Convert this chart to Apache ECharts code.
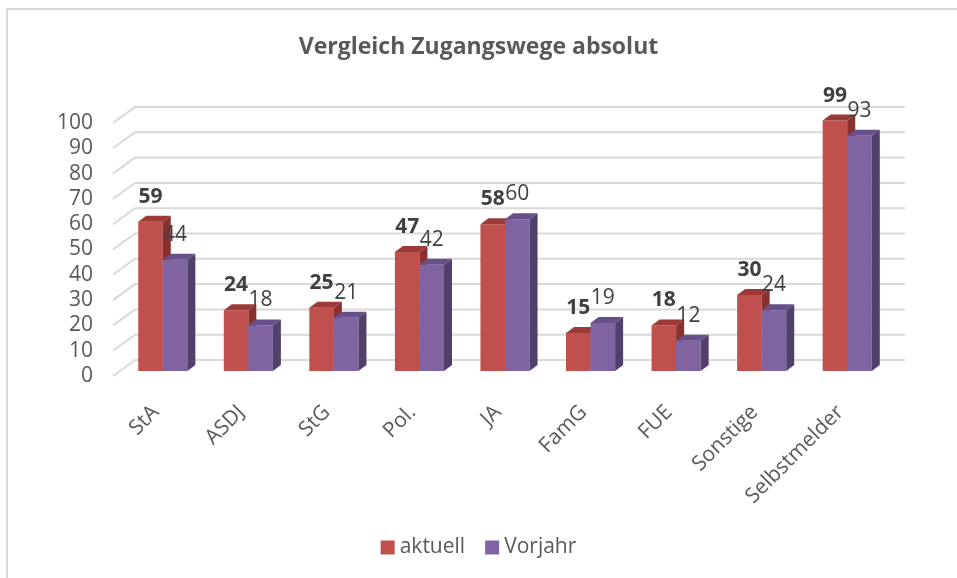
<!DOCTYPE html>
<html>
<head>
    <meta charset="utf-8">
    <title>Vergleich Zugangswege absolut</title>
    <script src="https://cdn.jsdelivr.net/npm/echarts@6/dist/echarts.min.js"></script>
</head>
<style>
    *{
        margin: 0;
        padding: 0;
    }
    #main{
        width: 957px;
        height: 578px;
    }
</style>
<body>
<div id="main"></div>
<script>
    let categories = ['StA', 'ASDJ', 'StG', 'Pol.', 'JA', 'FamG', 'FUE', 'Sonstige', 'Selbstmelder'];
    let aktuell = [59, 24, 25, 47, 58, 15, 18, 30, 99];
    let vorjahr = [44, 18, 21, 42, 60, 19, 12, 24, 93];
    let yTicks = [0, 10, 20, 30, 40, 50, 60, 70, 80, 90, 100];

    let font = '"Open Sans", "Noto Sans", sans-serif';
    // 3D projection: wall depth and bar placement in pixels
    let wallDx = 22, wallDy = -16;
    let barOx = 7, barOy = -5, barDx = 8, barDy = -6;

    function barRenderer(side, front, top, edge, bold) {
        return function (params, api) {
            let idx = api.value(0);
            let val = api.value(1);
            let p = api.coord([idx, val]);
            let b = api.coord([idx, 0]);
            let band = api.size([1, 0])[0];
            let w = band * 0.287;
            let x = (side === 0 ? p[0] - w : p[0]) + barOx;
            let t = p[1] + barOy;
            let base = b[1] + barOy;
            return {
                type: 'group',
                children: [
                    {
                        type: 'rect',
                        shape: {x: x, y: t, width: w, height: base - t},
                        style: {fill: front}
                    },
                    {
                        type: 'polygon',
                        shape: {points: [[x, t], [x + barDx, t + barDy], [x + w + barDx, t + barDy], [x + w, t]]},
                        style: {fill: top}
                    },
                    {
                        type: 'polygon',
                        shape: {points: [[x + w, t], [x + w + barDx, t + barDy], [x + w + barDx, base + barDy], [x + w, base]]},
                        style: {fill: edge}
                    },
                    {
                        type: 'text',
                        z2: 10,
                        style: {
                            text: String(val),
                            x: x + w / 2,
                            y: t - 25,
                            align: 'center',
                            verticalAlign: 'middle',
                            fill: '#404040',
                            font: (bold ? 'bold ' : '') + '21px ' + font
                        }
                    }
                ]
            };
        };
    }

    let chart = echarts.init(document.getElementById('main'));
    let option = {
        backgroundColor: '#ffffff',
        animation: false,
        title: {
            text: 'Vergleich Zugangswege absolut',
            left: 'center',
            top: 31,
            textStyle: {
                color: '#595959',
                fontFamily: font,
                fontWeight: 'bold',
                fontSize: 23
            }
        },
        legend: {
            bottom: 15,
            left: 'center',
            data: ['aktuell', 'Vorjahr'],
            icon: 'rect',
            itemWidth: 14,
            itemHeight: 14,
            itemGap: 20,
            textStyle: {
                color: '#595959',
                fontFamily: font,
                fontSize: 21
            }
        },
        graphic: [
            {type: 'line', shape: {x1: 7, y1: 9, x2: 7, y2: 578}, style: {stroke: '#d9d9d9', lineWidth: 2}},
            {type: 'line', shape: {x1: 7, y1: 9, x2: 957, y2: 9}, style: {stroke: '#d9d9d9', lineWidth: 2}}
        ],
        grid: {
            left: 113,
            right: 74,
            top: 123,
            bottom: 202
        },
        xAxis: {
            type: 'category',
            data: categories,
            axisLine: {show: false},
            axisTick: {show: false},
            axisLabel: {
                rotate: 45,
                margin: 33,
                interval: 0,
                color: '#595959',
                fontFamily: font,
                fontSize: 21
            }
        },
        yAxis: {
            type: 'value',
            min: 0,
            max: 100,
            interval: 10,
            axisLine: {show: false},
            axisTick: {show: false},
            splitLine: {show: false},
            axisLabel: {
                margin: 20,
                color: '#595959',
                fontFamily: font,
                fontSize: 21
            }
        },
        series: [
            {
                name: 'wall',
                type: 'custom',
                z: 1,
                silent: true,
                data: yTicks.map(v => [0, v]),
                renderItem: function (params, api) {
                    let cs = params.coordSys;
                    let y = api.coord([0, api.value(1)])[1];
                    return {
                        type: 'polyline',
                        shape: {points: [[cs.x, y], [cs.x + wallDx, y + wallDy], [cs.x + cs.width + wallDx, y + wallDy]]},
                        style: {stroke: '#d9d9d9', lineWidth: 2, fill: null}
                    };
                }
            },
            {
                name: 'aktuell',
                type: 'custom',
                z: 2,
                itemStyle: {color: '#c0504d'},
                data: aktuell.map((v, i) => [i, v]),
                renderItem: barRenderer(0, '#c0504d', '#9c3a37', '#8a302e', true)
            },
            {
                name: 'Vorjahr',
                type: 'custom',
                z: 3,
                itemStyle: {color: '#8064a2'},
                data: vorjahr.map((v, i) => [i, v]),
                renderItem: barRenderer(1, '#8064a2', '#67508a', '#523f6b', false)
            }
        ]
    };
    chart.setOption(option);
</script>
</body>
</html>
